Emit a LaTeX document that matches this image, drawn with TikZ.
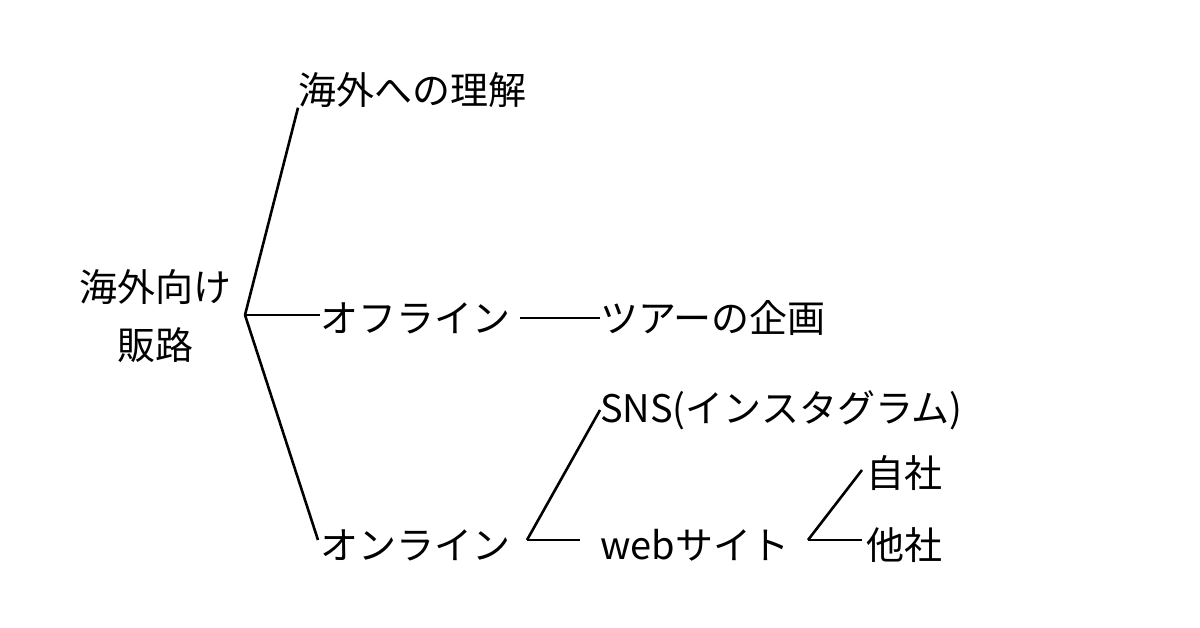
\documentclass[tikz,border=0pt]{standalone}
\usepackage{fontspec}
\setmainfont{Noto Sans CJK JP}
\begin{document}
\begin{tikzpicture}[x=1pt,y=-1pt,
  lbl/.style={anchor=west,inner sep=0pt,font=\fontsize{38}{46}\selectfont},
  conn/.style={line width=2.6pt}]
\useasboundingbox[fill=white] (0,0) rectangle (1200,628);
\node[anchor=center,inner sep=0pt,align=center,font=\fontsize{38}{58}\selectfont] (root) at (155,316) {海外向け\\販路};
\node[lbl] (a) at (298,90) {海外への理解};
\node[lbl] (b) at (320,318) {オフライン};
\node[lbl] (c) at (600,318) {ツアーの企画};
\node[lbl] (d) at (320,545) {オンライン};
\node[lbl] (e) at (600,410) {SNS(インスタグラム)};
\node[lbl] (f) at (600,545) {webサイト};
\node[lbl] (g) at (866,473) {自社};
\node[lbl] (h) at (866,545) {他社};
\coordinate (r) at (245,315);
\coordinate (dr) at (527,540);
\coordinate (fr) at (808,540);
\draw[conn] (r) -- (a.south west);
\draw[conn] (r) -- (b.west |- r);
\draw[conn] (r) -- (318,540) coordinate (dl);
\draw[conn] (520,318) -- (c.west);
\draw[conn] (dr) -- (e.west);
\draw[conn] (dr) -- (580,540);
\draw[conn] (fr) -- (862,470);
\draw[conn] (fr) -- (862,540);
\end{tikzpicture}
\end{document}
